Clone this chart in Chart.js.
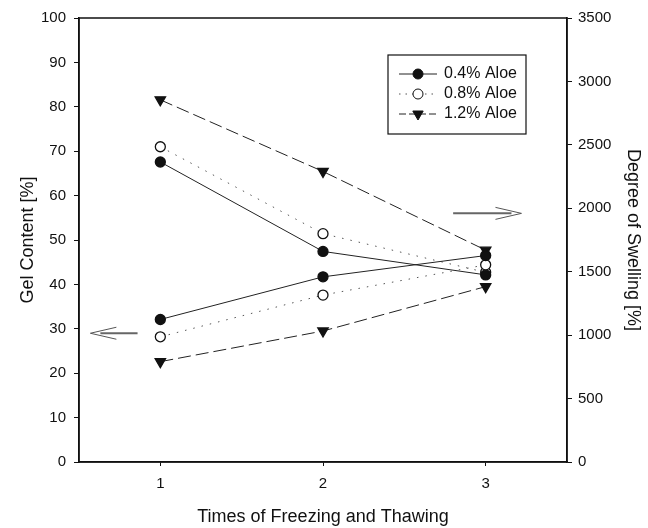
<!DOCTYPE html>
<html>
<head>
<meta charset="utf-8">
<script src="https://cdn.jsdelivr.net/npm/chart.js@4.4.1/dist/chart.umd.min.js"></script>
<style>
  html, body { margin: 0; padding: 0; background: #fff; }
  #wrap { width: 648px; height: 528px; }
</style>
</head>
<body>
<div id="wrap"><canvas id="chart" width="648" height="528"></canvas></div>
<script>
// data
const times = [1, 2, 3];
const seriesNames = ['0.4% Aloe', '0.8% Aloe', '1.2% Aloe'];

// gel content [%] (left axis)
const gel04 = [32.1, 41.7, 46.5];
const gel08 = [28.2, 37.6, 44.4];
const gel12 = [22.6, 29.5, 39.5];

// degree of swelling [%] (right axis)
const swell04 = [2365, 1660, 1475];
const swell08 = [2485, 1800, 1495];
const swell12 = [2855, 2290, 1670];

const xTicks = [1, 2, 3];

// arrows pointing at the axis each group belongs to: [xFrom, xTo, y, axis]
const arrowLeft = [0.86, 0.57, 29, 'y'];
const arrowRight = [2.8, 3.22, 1960, 'y2'];

const FONT = '"Liberation Sans", Arial, sans-serif';
const INK = '#111';

const styles = [
    { borderDash: [], legendDash: [], pointStyle: 'circle', fill: INK, radius: 5, rotation: 0, color: '#222' },
    { borderDash: [1.5, 7], legendDash: [1.5, 5], pointStyle: 'circle', fill: '#fff', radius: 5, rotation: 0, color: '#555' },
    { borderDash: [13, 5], legendDash: [7, 3], pointStyle: 'triangle', fill: INK, radius: 6, rotation: 180, color: '#222' }
];

function makeSet(values, idx, axis) {
    const s = styles[idx];
    return {
        label: seriesNames[idx],
        data: times.map((t, i) => ({ x: t, y: values[i] })),
        yAxisID: axis,
        borderColor: s.color,
        borderWidth: 1,
        borderDash: s.borderDash,
        pointStyle: s.pointStyle,
        pointRotation: s.rotation,
        pointRadius: s.radius,
        pointBackgroundColor: s.fill,
        pointBorderColor: INK,
        pointBorderWidth: 1.3,
        tension: 0
    };
}

const datasets = [
    makeSet(gel04, 0, 'y'),
    makeSet(gel08, 1, 'y'),
    makeSet(gel12, 2, 'y'),
    makeSet(swell04, 0, 'y2'),
    makeSet(swell08, 1, 'y2'),
    makeSet(swell12, 2, 'y2')
];

// frame, arrows and the boxed legend
const extras = {
    id: 'extras',
    afterDatasetsDraw(chart) {
        const ctx = chart.ctx;
        const a = chart.chartArea;
        const xs = chart.scales.x;

        ctx.save();
        ctx.strokeStyle = INK;
        ctx.lineWidth = 1.5;
        ctx.strokeRect(a.left, a.top, a.right - a.left, a.bottom - a.top);

        // arrows
        [arrowLeft, arrowRight].forEach(arr => {
            const x0 = xs.getPixelForValue(arr[0]);
            const x1 = xs.getPixelForValue(arr[1]);
            const y = chart.scales[arr[3]].getPixelForValue(arr[2]);
            const dir = Math.sign(x1 - x0);
            ctx.setLineDash([]);
            ctx.strokeStyle = '#666';
            ctx.lineWidth = 2;
            ctx.beginPath();
            ctx.moveTo(x0, y);
            ctx.lineTo(x1 - dir * 10, y);
            ctx.stroke();
            ctx.lineWidth = 1;
            ctx.strokeStyle = '#555';
            ctx.beginPath();
            ctx.moveTo(x1 - dir * 26, y - 6);
            ctx.lineTo(x1, y);
            ctx.lineTo(x1 - dir * 26, y + 6);
            ctx.stroke();
        });

        // legend box
        const bx = a.left + 309, by = a.top + 37, bw = 138, bh = 79;
        ctx.fillStyle = '#fff';
        ctx.fillRect(bx, by, bw, bh);
        ctx.strokeStyle = INK;
        ctx.lineWidth = 1.2;
        ctx.strokeRect(bx, by, bw, bh);
        ctx.font = '16px ' + FONT;
        ctx.textBaseline = 'middle';
        seriesNames.forEach((name, i) => {
            const s = styles[i];
            const ly = by + 19 + i * 20;
            ctx.strokeStyle = s.color;
            ctx.lineWidth = 1;
            ctx.setLineDash(s.legendDash);
            ctx.beginPath();
            ctx.moveTo(bx + 11, ly);
            ctx.lineTo(bx + 49, ly);
            ctx.stroke();
            ctx.setLineDash([]);
            ctx.fillStyle = s.fill;
            ctx.strokeStyle = INK;
            Chart.helpers.drawPoint(ctx, {
                pointStyle: s.pointStyle,
                rotation: s.rotation,
                radius: s.radius,
                borderWidth: 1.3
            }, bx + 30, ly);
            ctx.fillStyle = INK;
            ctx.fillText(name, bx + 56, ly);
        });
        ctx.restore();
    }
};

const tickFont = { family: FONT, size: 15 };
const titleFont = { family: FONT, size: 18 };

new Chart(document.getElementById('chart'), {
    type: 'line',
    data: { datasets: datasets },
    options: {
        responsive: false,
        animation: false,
        layout: { padding: { top: 18, left: 0, right: 0, bottom: 0 } },
        plugins: {
            legend: { display: false },
            tooltip: { enabled: false }
        },
        scales: {
            x: {
                type: 'linear',
                min: 0.5,
                max: 3.5,
                afterBuildTicks: s => { s.ticks = xTicks.map(v => ({ value: v })); },
                afterFit: s => { s.height = 66; },
                grid: { drawOnChartArea: false, drawTicks: true, tickLength: 4, color: INK },
                border: { color: INK, width: 1.5 },
                ticks: { color: INK, font: tickFont, padding: 9 },
                title: { display: true, text: 'Times of Freezing and Thawing', color: INK, font: titleFont, padding: { top: 0, bottom: 0 } }
            },
            y: {
                position: 'left',
                min: 0,
                max: 100,
                afterFit: s => { s.width = 79; },
                grid: { drawOnChartArea: false, drawTicks: true, tickLength: 5, color: INK },
                border: { color: INK, width: 1.5 },
                ticks: { stepSize: 10, color: INK, font: tickFont, padding: 8 },
                title: { display: true, text: 'Gel Content [%]', color: INK, font: titleFont, padding: { top: 17, bottom: 0 } }
            },
            y2: {
                position: 'right',
                min: 0,
                max: 3500,
                afterFit: s => { s.width = 81; },
                grid: { drawOnChartArea: false, drawTicks: true, tickLength: 5, color: INK },
                border: { color: INK, width: 1.5 },
                ticks: { stepSize: 500, color: INK, font: tickFont, padding: 6, callback: v => String(v) },
                title: { display: true, text: 'Degree of Swelling [%]', color: INK, font: titleFont, padding: { top: 4, bottom: 0 } }
            }
        }
    },
    plugins: [extras]
});
</script>
</body>
</html>
